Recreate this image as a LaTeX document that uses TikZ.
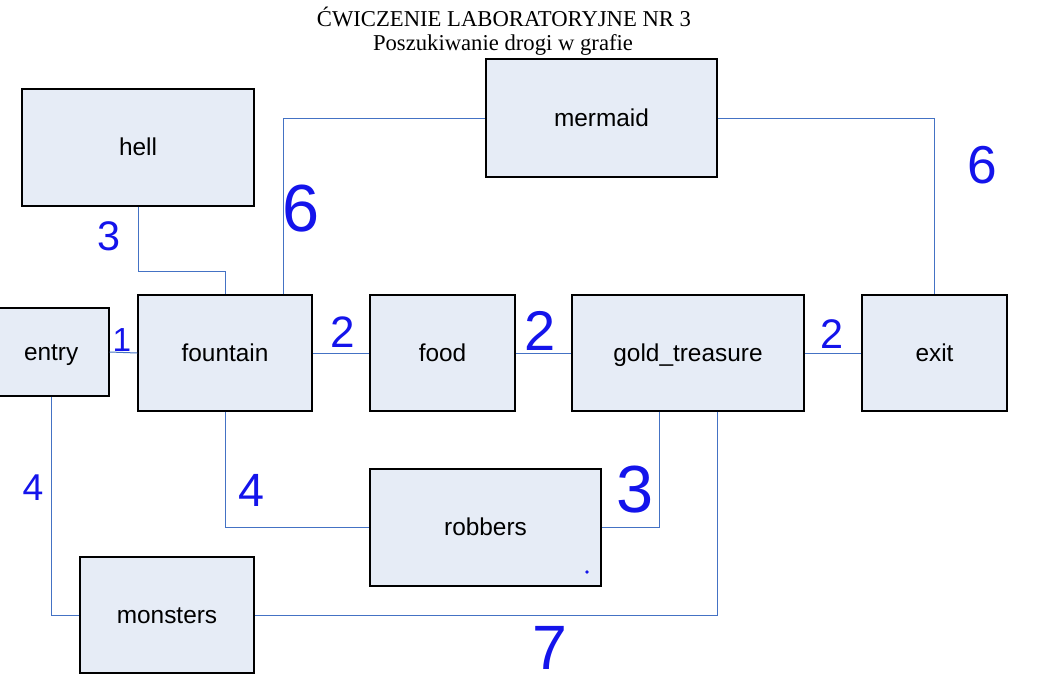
\documentclass[tikz,border=0pt]{standalone}
\usepackage{fontspec}
\setmainfont{Liberation Serif}
\newfontfamily\boxf{Liberation Sans}
\newfontfamily\hwf{Liberation Sans}
\usetikzlibrary{calc}
\definecolor{boxfill}{RGB}{230,236,246}
\definecolor{linkblue}{RGB}{68,114,196}
\definecolor{hwblue}{RGB}{20,20,235}
\tikzset{
  box/.style={draw=black, line width=0.9pt, fill=boxfill, inner sep=0pt,
    font=\boxf\fontsize{18.3}{20}\selectfont, text=black,
    text height=13.5pt, text depth=1.1pt},
  link/.style={draw=linkblue, line width=0.75pt},
  hw/.style={text=hwblue, inner sep=0pt, font=\hwf\fontsize{#1}{#1}\selectfont},
  ttl/.style={anchor=base, inner sep=0pt, font=\fontsize{17}{20}\selectfont}
}
\begin{document}
\begin{tikzpicture}[x=0.75pt, y=-0.75pt]
\useasboundingbox (0,0) rectangle (1056,690);
% title
\node[ttl] (t1) at (504,26.5) {ĆWICZENIE LABORATORYJNE NR 3};
\node[ttl] (t2) at (503,50.5) {Poszukiwanie drogi w grafie};
% boxes
\node[box, minimum width=174pt, minimum height=87.75pt] (hell) at (138,147.5) {hell};
\node[box, minimum width=173.25pt, minimum height=88.5pt] (mermaid) at (601.5,118) {mermaid};
\node[box, minimum width=89.25pt, minimum height=66pt] (entry) at (49.5,352) {\hspace*{2.5pt}entry};
\node[box, minimum width=130.5pt, minimum height=87pt] (fountain) at (225,353) {fountain};
\node[box, minimum width=108.75pt, minimum height=87pt] (food) at (442.5,353) {food};
\node[box, minimum width=174pt, minimum height=87pt] (gold) at (688,353) {gold\_treasure};
\node[box, minimum width=108.75pt, minimum height=87pt] (exit) at (934.5,353) {exit};
\node[box, minimum width=173.25pt, minimum height=87.75pt] (robbers) at (485.5,527.5) {robbers};
\node[box, minimum width=130.5pt, minimum height=87pt] (monsters) at (167,615) {monsters};
% connectors
\draw[link] (hell.south) -- ++(0,65) -| (fountain.north);
\draw[link] ($(fountain.north)+(58,0)$) |- (mermaid.west);
\draw[link] (mermaid.east) -| (exit.north);
\draw[link] (entry.east) -- (fountain.west);
\draw[link] (fountain.east) -- (food.west);
\draw[link] (food.east) -- (gold.west);
\draw[link] (gold.east) -- (exit.west);
\draw[link] ($(entry.south)+(1.5,0)$) |- (monsters.west);
\draw[link] (fountain.south) |- (robbers.west);
\draw[link] ($(gold.south)+(-29,0)$) |- (robbers.east);
\draw[link] ($(gold.south)+(29,0)$) |- (monsters.east);
% handwritten weights
\node[hw=31] (w1) at (109,236) {3};
\node[hw=50] (w2) at (301,209) {6};
\node[hw=40] (w3) at (982,165) {6};
\node[hw=25] (w4) at (122,340) {1};
\node[hw=33] (w5) at (343,332) {2};
\node[hw=42] (w6) at (540,331) {2};
\node[hw=31] (w7) at (832,334) {2};
\node[hw=28] (w8) at (33,488) {4};
\node[hw=35] (w9) at (251,490) {4};
\node[hw=50] (w10) at (635,490) {3};
\node[hw=47] (w11) at (550,648) {7};
\fill[hwblue] (587,572) circle (1.4pt);
\end{tikzpicture}
\end{document}
